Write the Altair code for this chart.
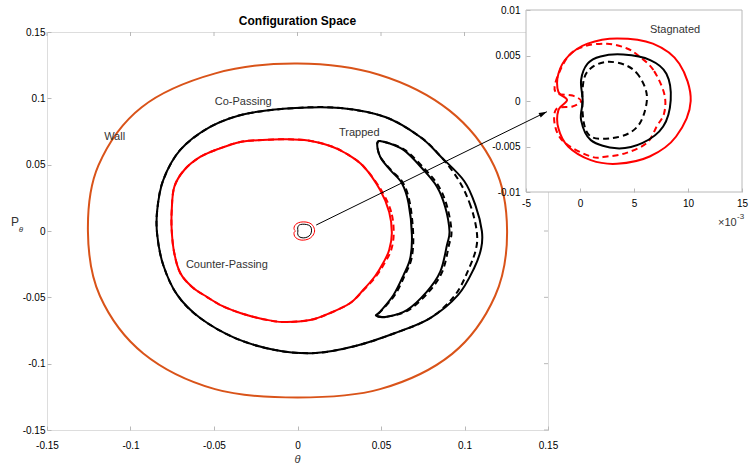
import math
import pandas as pd
import altair as alt

# ---------------- main panel: (theta, P_theta) closed orbits ----------------
WALL_TH = [0.1255, 0.1178, 0.0909, 0.0488, 0.0000, -0.0492, -0.0933, -0.1192,
           -0.1255, -0.1183, -0.0923, -0.0494, 0.0000, 0.0494, 0.0926, 0.1183]
WALL_P = [0.0000, 0.0488, 0.0909, 0.1178, 0.1262, 0.1188, 0.0933, 0.0494,
          0.0000, -0.0490, -0.0923, -0.1192, -0.1255, -0.1192, -0.0926, -0.0490]

COPASS_TH = [0.1104, 0.1067, 0.0998, 0.0860, 0.0735, 0.0525, 0.0256, -0.0014, -0.0313,
             -0.0523, -0.0702, -0.0804, -0.0840, -0.0840, -0.0804, -0.0720, -0.0583,
             -0.0373, -0.0134, 0.0106, 0.0346, 0.0585, 0.0795, 0.0962, 0.1058, 0.1100]
COPASS_P = [0.0000, 0.0188, 0.0377, 0.0558, 0.0709, 0.0859, 0.0927, 0.0927, 0.0882,
            0.0784, 0.0611, 0.0384, 0.0158, -0.0030, -0.0256, -0.0482, -0.0656,
            -0.0807, -0.0897, -0.0920, -0.0867, -0.0769, -0.0656, -0.0482, -0.0279, -0.0128]

COPASS_D_TH = [0.1073, 0.1037, 0.0968, 0.0860, 0.0735, 0.0525, 0.0256, -0.0014, -0.0313,
               -0.0523, -0.0702, -0.0804, -0.0840, -0.0840, -0.0804, -0.0720, -0.0583,
               -0.0373, -0.0134, 0.0106, 0.0346, 0.0585, 0.0795, 0.0944, 0.1028, 0.1070]
COPASS_D_P = COPASS_P

COUNTER_TH = [0.0565, 0.0549, 0.0495, 0.0393, 0.0286, 0.0196, 0.0064, -0.0074, -0.0211,
              -0.0343, -0.0475, -0.0583, -0.0678, -0.0738, -0.0753, -0.0753, -0.0738,
              -0.0702, -0.0631, -0.0541, -0.0451, -0.0343, -0.0211, -0.0086, 0.0076,
              0.0196, 0.0316, 0.0393, 0.0465, 0.0513, 0.0549]
COUNTER_P = [-0.0015, 0.0143, 0.0309, 0.0490, 0.0588, 0.0641, 0.0682, 0.0691, 0.0686,
             0.0671, 0.0618, 0.0558, 0.0460, 0.0332, 0.0158, 0.0000, -0.0166,
             -0.0317, -0.0422, -0.0498, -0.0565, -0.0618, -0.0663, -0.0686, -0.0671,
             -0.0618, -0.0543, -0.0445, -0.0339, -0.0241, -0.0143]

COUNTER_D_TH = [0.0576, 0.0561, 0.0501, 0.0393, 0.0286, 0.0196, 0.0064, -0.0074, -0.0211,
                -0.0343, -0.0475, -0.0583, -0.0678, -0.0738, -0.0753, -0.0753, -0.0738,
                -0.0702, -0.0631, -0.0541, -0.0451, -0.0343, -0.0211, -0.0086, 0.0076,
                0.0196, 0.0316, 0.0396, 0.0472, 0.0522, 0.0561]
COUNTER_D_P = COUNTER_P

TRAP_TH = [0.0478, 0.0515, 0.0635, 0.0755, 0.0835, 0.0884, 0.0910, 0.0895, 0.0855,
           0.0775, 0.0655, 0.0535, 0.0471, 0.0495, 0.0575, 0.0635, 0.0675, 0.0685,
           0.0665, 0.0625, 0.0555, 0.0495]
TRAP_P = [0.0663, 0.0673, 0.0611, 0.0460, 0.0334, 0.0183, 0.0000, -0.0106, -0.0307,
          -0.0457, -0.0596, -0.0646, -0.0638, -0.0608, -0.0482, -0.0332, -0.0206,
          -0.0030, 0.0209, 0.0360, 0.0460, 0.0560]

TRAP_D_TH = [0.0478, 0.0515, 0.0642, 0.0767, 0.0847, 0.0896, 0.0922, 0.0907, 0.0867,
             0.0787, 0.0665, 0.0535, 0.0471, 0.0497, 0.0583, 0.0643, 0.0683, 0.0693,
             0.0673, 0.0633, 0.0560, 0.0495]
TRAP_D_P = TRAP_P

# ---------------- stagnated orbits (drawn in both panels) ----------------
STAG_R_TH = [0.01025, 0.0092, 0.00675, 0.00343, 0.0007, -0.0011, -0.0020, -0.0020,
             -0.0012, -0.0020, -0.0020, -0.0011, 0.0010, 0.00343, 0.00645, 0.0089]
STAG_R_P = [0.0000, 0.0041, 0.0063, 0.00687, 0.0063, 0.0049, 0.0030, 0.0010,
            0.0001, -0.0010, -0.0030, -0.0050, -0.0065, -0.0069, -0.0061, -0.0039]

STAG_RD_TH = [0.0078, 0.0068, 0.0055, 0.0043, 0.0025, 0.0004, -0.0011, -0.0022, -0.0022,
              -0.0007, 0.0001, -0.0007, -0.0022, -0.0023, -0.0014, 0.0010, 0.0025,
              0.0043, 0.0062, 0.0071, 0.0078]
STAG_RD_P = [0.0008, 0.0034, 0.0049, 0.0058, 0.0063, 0.0060, 0.0049, 0.0023, 0.0009,
             0.0006, 0.0000, -0.0006, -0.0009, -0.0028, -0.0046, -0.0061, -0.0061,
             -0.0057, -0.0046, -0.0028, -0.0013]

STAG_K_TH = [0.0084, 0.0080, 0.0065, 0.0040, 0.0019, 0.0007, 0.0001, 0.00025, 0.0001,
             0.0010, 0.0034, 0.0058, 0.0077]
STAG_K_P = [0.0001, 0.0030, 0.0045, 0.0051, 0.0049, 0.0041, 0.0023, 0.0000, -0.0021,
            -0.0043, -0.0052, -0.0046, -0.0028]

STAG_KD_TH = [0.0062, 0.0055, 0.0043, 0.0025, 0.0010, 0.0003, 0.0003, 0.0010, 0.0028,
              0.0046, 0.0057]
STAG_KD_P = [0.0005, 0.0027, 0.0039, 0.0043, 0.0036, 0.0020, -0.0020, -0.0039, -0.0041,
             -0.0035, -0.0021]

# ---------------- annotations ----------------
MAIN_LABELS = ["Wall", "Co-Passing", "Trapped", "Counter-Passing"]
MAIN_LABEL_TH = [-0.1095, -0.0325, 0.0370, -0.0423]
MAIN_LABEL_P = [0.0705, 0.0972, 0.0736, -0.0256]

INSET_LABELS = ["Stagnated"]
INSET_LABEL_TH = [0.0088]
INSET_LABEL_P = [0.0078]

ARROW_FROM = (0.0112, 0.0045)
ARROW_TO = (0.1493, 0.0899)

MAIN_DOMAIN = [-0.15, 0.15]
MAIN_TICKS = [-0.15, -0.1, -0.05, 0, 0.05, 0.1, 0.15]
INSET_X_DOMAIN = [-0.005, 0.015]
INSET_Y_DOMAIN = [-0.01, 0.01]
INSET_X_TICKS = [-0.005, 0, 0.005, 0.01, 0.015]
INSET_Y_TICKS = [-0.01, -0.005, 0, 0.005, 0.01]

# ---------------- layout / style ----------------
W, H = 501, 398
INSET_X_RANGE = [479, 695]
INSET_Y_RANGE = [160, -22]
AX = "#b8b8b8"
TXT = "#333333"
FONT = "Liberation Sans"
ORANGE = "#D95319"
RED = "#FF0000"
BLACK = "#000000"
DASH = [6, 4]


def closed(th, p):
    return pd.DataFrame({"seq": list(range(len(th))), "th": th, "p": p})


main_x_scale = alt.Scale(domain=MAIN_DOMAIN, nice=False, zero=False)
main_y_scale = alt.Scale(domain=MAIN_DOMAIN, nice=False, zero=False)

MX = alt.X("th:Q", scale=main_x_scale, title="",
           axis=alt.Axis(values=MAIN_TICKS, orient="bottom", domain=False, grid=False,
                         tickSize=4, offset=-4, labelPadding=10, tickColor=AX,
                         labelExpr="'' + datum.value", labelFlush=False, title=""))
MY = alt.Y("p:Q", scale=main_y_scale, title="",
           axis=alt.Axis(values=MAIN_TICKS, orient="left", domain=False, grid=False,
                         tickSize=4, offset=-4, labelPadding=2, tickColor=AX,
                         labelExpr="'' + datum.value", labelFlush=False, title=""))

inset_x_scale = alt.Scale(domain=INSET_X_DOMAIN, range=INSET_X_RANGE, nice=False, zero=False)
inset_y_scale = alt.Scale(domain=INSET_Y_DOMAIN, range=INSET_Y_RANGE, nice=False, zero=False)

IX = alt.X("th:Q", scale=inset_x_scale, title="",
           axis=alt.Axis(values=INSET_X_TICKS, orient="bottom", domain=False, grid=False,
                         tickSize=4, offset=-(H - INSET_Y_RANGE[0]) - 4, labelPadding=6,
                         tickColor=AX, zindex=1, labelFlush=False,
                         labelExpr="'' + round(datum.value * 1000)", title=""))
IY = alt.Y("p:Q", scale=inset_y_scale, title="",
           axis=alt.Axis(values=INSET_Y_TICKS, orient="left", domain=False, grid=False,
                         tickSize=4, offset=-INSET_X_RANGE[0] - 4, labelPadding=6,
                         tickColor=AX, zindex=1, labelFlush=False,
                         labelExpr="'' + datum.value", title=""))


def orbit(th, p, color, width, x, y, dashed=False):
    kw = dict(interpolate="cardinal-closed", color=color, strokeWidth=width)
    if dashed:
        kw["strokeDash"] = DASH
    return alt.Chart(closed(th, p)).mark_line(**kw).encode(x=x, y=y, order="seq:Q")


def fixed_text(text, x, y, size, **style):
    return (alt.Chart(pd.DataFrame({"t": [text]}))
            .mark_text(font=FONT, fontSize=size, **style)
            .encode(x=alt.value(x), y=alt.value(y), text="t:N"))


# main panel layers
main_layers = [
    orbit(WALL_TH, WALL_P, ORANGE, 2, MX, MY),
    orbit(COUNTER_TH, COUNTER_P, RED, 2, MX, MY),
    orbit(COUNTER_D_TH, COUNTER_D_P, RED, 2, MX, MY, dashed=True),
    orbit(COPASS_TH, COPASS_P, BLACK, 2, MX, MY),
    orbit(COPASS_D_TH, COPASS_D_P, BLACK, 2, MX, MY, dashed=True),
    orbit(TRAP_TH, TRAP_P, BLACK, 2, MX, MY),
    orbit(TRAP_D_TH, TRAP_D_P, BLACK, 2, MX, MY, dashed=True),
    orbit(STAG_R_TH, STAG_R_P, RED, 1, MX, MY),
    orbit(STAG_K_TH, STAG_K_P, BLACK, 1, MX, MY),
]

labels_df = pd.DataFrame({"th": MAIN_LABEL_TH, "p": MAIN_LABEL_P, "t": MAIN_LABELS})
main_layers.append(
    alt.Chart(labels_df).mark_text(font=FONT, fontSize=11, color=TXT)
    .encode(x=MX, y=MY, text="t:N")
)

# inward ticks on the top and right edges of the main box
ticks_df = pd.DataFrame({"th": MAIN_TICKS, "p": MAIN_TICKS})
main_layers.append(
    alt.Chart(ticks_df).mark_rule(color=AX, strokeWidth=1)
    .encode(x=MX, y=alt.value(0), y2=alt.value(4))
)
main_layers.append(
    alt.Chart(ticks_df).mark_rule(color=AX, strokeWidth=1)
    .encode(y=MY, x=alt.value(W), x2=alt.value(W - 4))
)

# title and axis titles (theta below, P_theta on the left with a subscript)
main_layers += [
    fixed_text("Configuration Space", W / 2, -11, 12, fontWeight="bold", color="black"),
    fixed_text("θ", W / 2, 428, 11, fontStyle="italic", color=TXT),
    fixed_text("P", -32, 190, 12, color=TXT),
    fixed_text("θ", -26, 198, 8, fontStyle="italic", color=TXT),
]

main = alt.layer(*main_layers)

# inset panel
box_df = pd.DataFrame({"th": [INSET_X_DOMAIN[0]], "th2": [INSET_X_DOMAIN[1]],
                       "p": [INSET_Y_DOMAIN[0]], "p2": [INSET_Y_DOMAIN[1]]})
inset_layers = [
    alt.Chart(box_df).mark_rect(fill="white", stroke=AX, strokeWidth=1)
    .encode(x=IX, x2="th2:Q", y=IY, y2="p2:Q"),
    orbit(STAG_R_TH, STAG_R_P, RED, 2, IX, IY),
    orbit(STAG_RD_TH, STAG_RD_P, RED, 2, IX, IY, dashed=True),
    orbit(STAG_K_TH, STAG_K_P, BLACK, 2, IX, IY),
    orbit(STAG_KD_TH, STAG_KD_P, BLACK, 2, IX, IY, dashed=True),
]
ilab_df = pd.DataFrame({"th": INSET_LABEL_TH, "p": INSET_LABEL_P, "t": INSET_LABELS})
inset_layers.append(
    alt.Chart(ilab_df).mark_text(font=FONT, fontSize=11, color=TXT).encode(x=IX, y=IY, text="t:N")
)
inset_layers += [
    fixed_text("×10", 671, 191, 11, color=TXT, align="left"),
    fixed_text("-3", 690, 185, 8, color=TXT, align="left"),
]
inset = alt.layer(*inset_layers)

# arrow from the small orbit in the main panel to the inset
arrow_df = pd.DataFrame({"th": [ARROW_FROM[0]], "p": [ARROW_FROM[1]],
                         "th_end": [ARROW_TO[0]], "p_end": [ARROW_TO[1]]})
ax_scale = alt.Scale(domain=MAIN_DOMAIN, nice=False, zero=False)
ay_scale = alt.Scale(domain=MAIN_DOMAIN, nice=False, zero=False)
px_per_x = W / (MAIN_DOMAIN[1] - MAIN_DOMAIN[0])
px_per_y = H / (MAIN_DOMAIN[1] - MAIN_DOMAIN[0])
dx = (ARROW_TO[0] - ARROW_FROM[0]) * px_per_x
dy = (ARROW_TO[1] - ARROW_FROM[1]) * px_per_y
head_angle = (360 - math.degrees(math.atan2(dy, dx))) % 360

arrow = alt.layer(
    alt.Chart(arrow_df).mark_rule(color=BLACK, strokeWidth=1).encode(
        x=alt.X("th:Q", scale=ax_scale, axis=None), x2="th_end:Q",
        y=alt.Y("p:Q", scale=ay_scale, axis=None), y2="p_end:Q"),
    alt.Chart(arrow_df).mark_point(shape="M0,0 L-1,-0.3 L-1,0.3 Z", filled=True, size=256,
                                   color=BLACK, opacity=1, angle=head_angle).encode(
        x=alt.X("th_end:Q", scale=ax_scale, axis=None),
        y=alt.Y("p_end:Q", scale=ay_scale, axis=None)),
)

chart = (
    alt.layer(main, inset, arrow)
    .resolve_scale(x="independent", y="independent")
    .properties(
        width=W, height=H,
        padding={"left": 47, "top": 32, "right": 201, "bottom": 36},
        autosize=alt.AutoSizeParams(type="none"),
    )
    .configure_view(stroke=AX, strokeWidth=1)
    .configure_axis(labelFont=FONT, labelFontSize=11, labelColor=TXT)
    .configure(background="white")
)

chart.save("out.html", embed_options={"renderer": "svg", "actions": False})
